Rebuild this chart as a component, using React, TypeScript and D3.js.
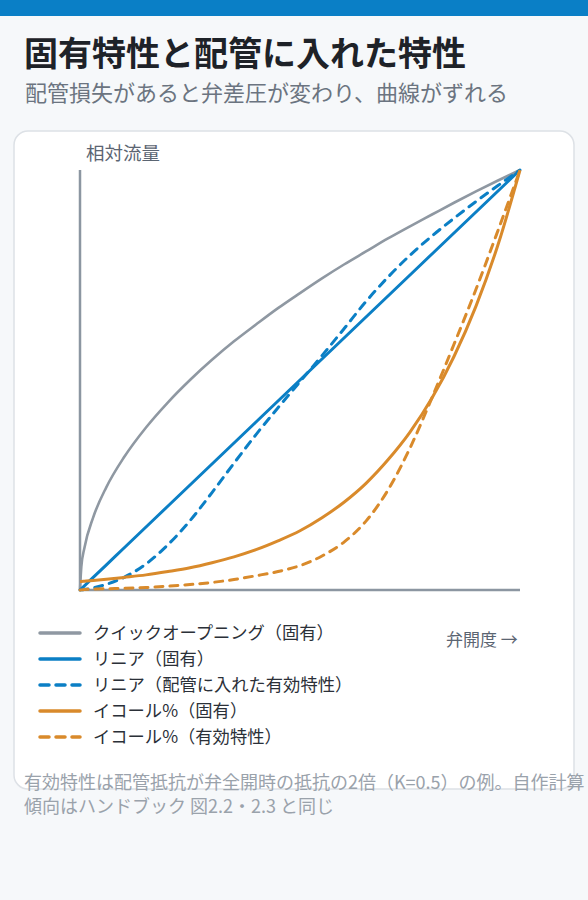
import React from "react";
import * as d3 from "d3";

const openings = [0, 0.003, 0.01, 0.03, 0.06, 0.1, 0.15, 0.2, 0.25, 0.3, 0.35, 0.4, 0.45, 0.5, 0.55, 0.6, 0.65, 0.7, 0.75, 0.8, 0.85, 0.9, 0.95, 1];
const quickOpening = [0, 0.055, 0.1, 0.173, 0.245, 0.316, 0.387, 0.447, 0.5, 0.548, 0.592, 0.632, 0.671, 0.707, 0.742, 0.775, 0.806, 0.837, 0.866, 0.894, 0.922, 0.949, 0.975, 1];
const linearInherent = [0, 0.003, 0.01, 0.03, 0.06, 0.1, 0.15, 0.2, 0.25, 0.3, 0.35, 0.4, 0.45, 0.5, 0.55, 0.6, 0.65, 0.7, 0.75, 0.8, 0.85, 0.9, 0.95, 1];
const linearInstalled = [0, 0.0003, 0.0012, 0.005, 0.0135, 0.03, 0.062, 0.108, 0.165, 0.232, 0.302, 0.37, 0.434, 0.496, 0.558, 0.622, 0.687, 0.745, 0.797, 0.843, 0.885, 0.925, 0.963, 1];
const eqPctInherent = [0.02, 0.0202, 0.0208, 0.0225, 0.0255, 0.03, 0.036, 0.044, 0.053, 0.065, 0.079, 0.096, 0.117, 0.141, 0.172, 0.209, 0.254, 0.31, 0.376, 0.457, 0.556, 0.676, 0.822, 1];
const eqPctInstalled = [0, 0.0003, 0.001, 0.002, 0.003, 0.004, 0.006, 0.009, 0.013, 0.018, 0.025, 0.034, 0.044, 0.058, 0.081, 0.114, 0.164, 0.238, 0.338, 0.458, 0.585, 0.716, 0.856, 1];

const seriesLabels = [
  "クイックオープニング（固有）",
  "リニア（固有）",
  "リニア（配管に入れた有効特性）",
  "イコール%（固有）",
  "イコール%（有効特性）",
];

const GRAY = "#8f98a2";
const BLUE = "#0b7fc5";
const ORANGE = "#d98a2b";
const FONT = "'Noto Sans CJK JP', 'Noto Sans', sans-serif";

export default function App() {
  const x = d3.scaleLinear().domain([0, 1]).range([80, 520]);
  const y = d3.scaleLinear().domain([0, 1]).range([590, 170]);
  const line = (vals: number[]) =>
    d3
      .line<number>()
      .x((_, i) => x(openings[i]))
      .y((v) => y(v))
      .curve(d3.curveMonotoneX)(vals) || "";

  const series = [
    { vals: quickOpening, color: GRAY, dash: null as string | null, w: 2.6 },
    { vals: linearInherent, color: BLUE, dash: null, w: 3 },
    { vals: linearInstalled, color: BLUE, dash: "8 7", w: 3 },
    { vals: eqPctInherent, color: ORANGE, dash: null, w: 3 },
    { vals: eqPctInstalled, color: ORANGE, dash: "8 7", w: 3 },
  ];

  return (
    <svg
      width={588}
      height={900}
      style={{ position: "absolute", left: 0, top: 0, fontFamily: FONT }}
    >
      <rect x={0} y={0} width={588} height={900} fill="#f6f8fa" />
      <rect x={0} y={0} width={588} height={16} fill="#0a7fc6" />
      <text x={24} y={66} fontSize={34} fontWeight={700} fill="#1e2228">
        固有特性と配管に入れた特性
      </text>
      <text x={25} y={101} fontSize={22} fill="#6b7480">
        配管損失があると弁差圧が変わり、曲線がずれる
      </text>
      <rect x={14} y={131} width={560} height={658} rx={14} fill="#ffffff" stroke="#dde1e6" strokeWidth={1.5} />

      <text x={86} y={160} fontSize={18.5} fill="#5b6572">相対流量</text>

      <line x1={x(0)} x2={x(0)} y1={y(1)} y2={y(0)} stroke="#8c96a1" strokeWidth={2.5} />
      <line x1={x(0)} x2={x(1)} y1={y(0)} y2={y(0)} stroke="#8c96a1" strokeWidth={2.5} />

      {series.map((s, i) => (
        <path
          key={i}
          d={line(s.vals)}
          fill="none"
          stroke={s.color}
          strokeWidth={s.w}
          strokeDasharray={s.dash || undefined}
          strokeLinecap={s.dash ? "round" : "butt"}
          strokeLinejoin="round"
        />
      ))}

      {series.map((s, i) => {
        const cy = 633 + i * 26;
        return (
          <g key={"lg" + i}>
            <line
              x1={40}
              x2={80}
              y1={cy}
              y2={cy}
              stroke={s.color}
              strokeWidth={3.5}
              strokeLinecap="round"
              strokeDasharray={s.dash ? "9 7" : undefined}
            />
            <text x={93} y={cy + 6} fontSize={17.3} fill="#2b3038">
              {seriesLabels[i]}
            </text>
          </g>
        );
      })}

      <text x={446} y={646} fontSize={17} fill="#5b6572">弁開度 →</text>

      <text x={24} y={789} fontSize={18} fill="#9aa2ab">
        有効特性は配管抵抗が弁全開時の抵抗の2倍（K=0.5）の例。自作計算
      </text>
      <text x={24} y={813} fontSize={18} fill="#9aa2ab">
        傾向はハンドブック 図2.2・2.3 と同じ
      </text>
    </svg>
  );
}
